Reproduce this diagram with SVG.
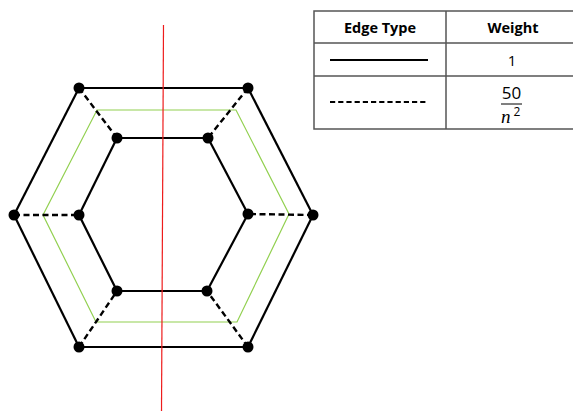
<svg xmlns="http://www.w3.org/2000/svg" width="573" height="411" viewBox="0 0 573 411">
<style>
.solid{stroke:#000;stroke-width:2.2;fill:none}
.dash{stroke:#000;stroke-width:2.4;fill:none;stroke-dasharray:6,3.5}
.green{stroke:#92d050;stroke-width:1.2;fill:none}
.red{stroke:#ee1c1c;stroke-width:1.2}
.node{fill:#000}
.tb{stroke:#555;stroke-width:1.5;fill:none}
.hdr{font-family:"Open Sans","Liberation Sans",sans-serif;font-weight:bold;font-size:14.5px;text-anchor:middle;fill:#000}
.cell{font-family:"Open Sans","Liberation Sans",sans-serif;font-size:15px;text-anchor:middle;fill:#000}
.math{font-family:"Liberation Serif",serif;font-style:italic;font-size:19px;fill:#000}
</style>
<rect width="573" height="411" fill="#fff"/>
<polygon class="green" points="97,110 236,110 289,214 237,322 96,322 43,215"/>
<g id="connectors">
<line class="solid" x1="79" y1="88" x2="248" y2="88"/>
<line class="solid" x1="248" y1="88" x2="313" y2="215"/>
<line class="solid" x1="313" y1="215" x2="248" y2="347"/>
<line class="solid" x1="248" y1="347" x2="79" y2="347"/>
<line class="solid" x1="79" y1="347" x2="14" y2="215"/>
<line class="solid" x1="14" y1="215" x2="79" y2="88"/>
<line class="solid" x1="117" y1="138" x2="208" y2="138"/>
<line class="solid" x1="208" y1="138" x2="248" y2="214"/>
<line class="solid" x1="248" y1="214" x2="207" y2="291"/>
<line class="solid" x1="207" y1="291" x2="117" y2="291"/>
<line class="solid" x1="117" y1="291" x2="79" y2="215"/>
<line class="solid" x1="79" y1="215" x2="117" y2="138"/>
<line class="dash" x1="79" y1="88" x2="117" y2="138"/>
<line class="dash" x1="248" y1="88" x2="208" y2="138"/>
<line class="dash" x1="313" y1="215" x2="248" y2="214"/>
<line class="dash" x1="248" y1="347" x2="207" y2="291"/>
<line class="dash" x1="79" y1="347" x2="117" y2="291"/>
<line class="dash" x1="14" y1="215" x2="79" y2="215"/>
</g>
<line class="red" x1="163.5" y1="25" x2="161.5" y2="411"/>
<g id="n1"><circle class="node" cx="79" cy="88" r="5.5"/></g>
<g id="n2"><circle class="node" cx="248" cy="88" r="5.5"/></g>
<g id="n3"><circle class="node" cx="313" cy="215" r="5.5"/></g>
<g id="n4"><circle class="node" cx="248" cy="347" r="5.5"/></g>
<g id="n5"><circle class="node" cx="79" cy="347" r="5.5"/></g>
<g id="n6"><circle class="node" cx="14" cy="215" r="5.5"/></g>
<g id="n7"><circle class="node" cx="117" cy="138" r="5.5"/></g>
<g id="n8"><circle class="node" cx="208" cy="138" r="5.5"/></g>
<g id="n9"><circle class="node" cx="248" cy="214" r="5.5"/></g>
<g id="n10"><circle class="node" cx="207" cy="291" r="5.5"/></g>
<g id="n11"><circle class="node" cx="117" cy="291" r="5.5"/></g>
<g id="n12"><circle class="node" cx="79" cy="215" r="5.5"/></g>
<g id="table">
<polyline class="tb" points="580,11 314,11 314,129 580,129"/>
<line class="tb" x1="314" y1="43" x2="580" y2="43"/>
<line class="tb" x1="314" y1="76" x2="580" y2="76"/>
<line class="tb" x1="446" y1="11" x2="446" y2="129"/>
<text class="hdr" x="380" y="33">Edge Type</text>
<text class="hdr" x="513" y="33">Weight</text>
<line stroke="#000" stroke-width="1.8" x1="330" y1="60" x2="428" y2="60"/>
<line stroke="#000" stroke-width="1.8" stroke-dasharray="5.2,3" x1="330" y1="102" x2="428" y2="102"/>
<text class="cell" x="512" y="66">1</text>
<text class="cell" x="511.5" y="99" style="font-size:17px">50</text>
<line stroke="#000" stroke-width="1" x1="501" y1="104" x2="522" y2="104"/>
<text class="math" x="501" y="123">n</text>
<text class="cell" x="517" y="116" style="font-size:12px">2</text>
</g>
</svg>
